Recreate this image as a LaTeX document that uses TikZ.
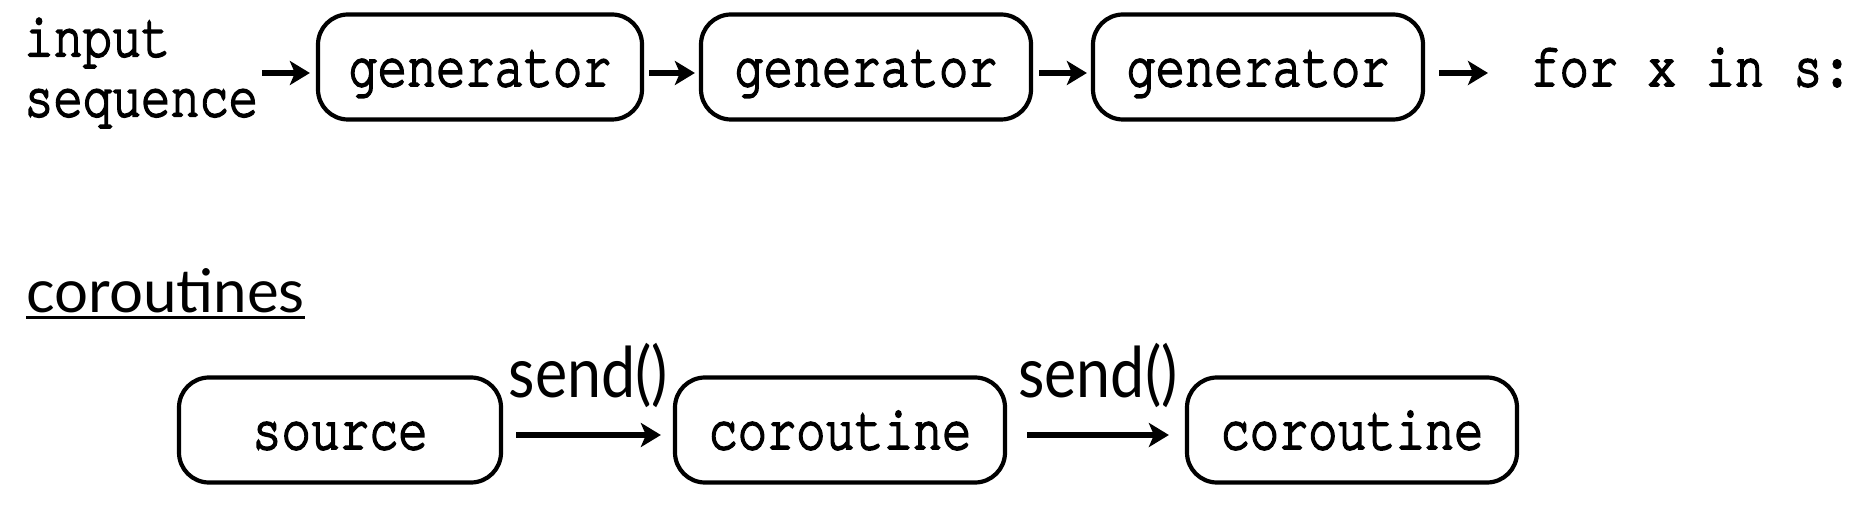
\documentclass[tikz,border=0pt]{standalone}
\usepackage{fontspec}
\setmainfont{Lato}
\newfontfamily\codefont{texgyrecursor-regular.otf}[FakeBold=3,FakeStretch=0.78]
\newfontfamily\sendfont{Lato}[FakeStretch=0.87]
\usetikzlibrary{arrows.meta}
\begin{document}
\begin{tikzpicture}[x=0.5pt,y=-0.5pt,
    stage/.style={draw,line width=2.1pt,rounded corners=15pt,minimum width=165pt,
      minimum height=52.5pt,inner sep=0pt,text height=19pt,text depth=0pt,
      font=\codefont\fontsize{31.2}{30}\selectfont},
    plain/.style={inner sep=0pt,font=\codefont\fontsize{31.2}{30}\selectfont},
    flow/.style={line width=2.6pt,-{Stealth[length=10pt,width=12pt,inset=2.5pt]}},
    lbl/.style={inner sep=0pt,font=\fontsize{30}{32}\selectfont},
    msg/.style={inner sep=0pt,anchor=base,yshift=19pt,font=\sendfont\fontsize{35}{36}\selectfont}]
\useasboundingbox (0,0) rectangle (1874,518);

% generator pipeline
\node[plain,align=left,anchor=west] (inp) at (24,73) {input\\sequence};
\node[stage,minimum width=162pt] (g1) at (480,67) {generator};
\node[stage] (g2) at (866,67) {generator};
\node[stage] (g3) at (1258,67) {generator};
\node[plain,anchor=base west] (loop) at (1530,86) {for x in s:};

\draw[flow] ([xshift=2pt]inp.east) -- ([xshift=-3pt,yshift=-3pt]g1.west);
\draw[flow] ([xshift=2.5pt,yshift=-3pt]g1.east) -- ([xshift=-2pt,yshift=-3pt]g2.west);
\draw[flow] ([xshift=3pt,yshift=-3pt]g2.east) -- ([xshift=-2pt,yshift=-3pt]g3.west);
\draw[flow] ([xshift=7pt,yshift=-3pt]g3.east) -- ([xshift=-21pt,yshift=6.5pt]loop.base west);

% coroutine pipeline
\node[lbl,anchor=base west] (title) at (26,313) {coroutines};
\draw[line width=1.5pt] ([yshift=-2.5pt]title.base west) -- ([yshift=-2.5pt]title.base east);

\node[stage,minimum width=161pt] (src) at (340,430) {source};
\node[stage] (c1) at (840,430) {coroutine};
\node[stage] (c2) at (1352,430) {coroutine};

\draw[flow] ([xshift=6.5pt,yshift=-2.5pt]src.east) -- node[msg] {send()} ([xshift=-6pt,yshift=-2.5pt]c1.west);
\draw[flow] ([xshift=10pt,yshift=-2.5pt]c1.east) -- node[msg] {send()} ([xshift=-8pt,yshift=-2.5pt]c2.west);
\end{tikzpicture}
\end{document}
